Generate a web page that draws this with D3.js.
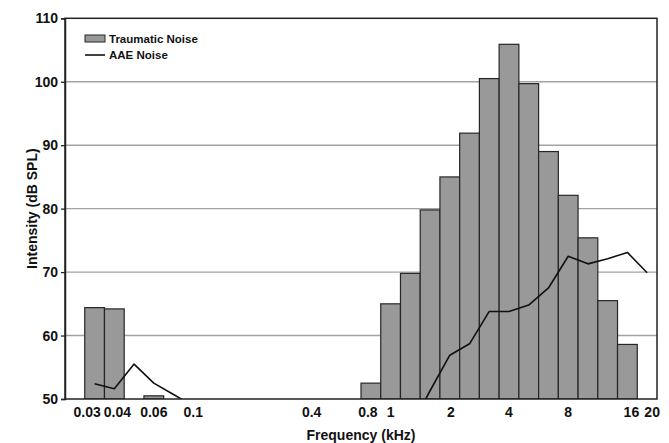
<!DOCTYPE html>
<html>
<head>
<meta charset="utf-8">
<script src="https://cdn.jsdelivr.net/npm/d3@7"></script>
<style>
  html, body { margin: 0; padding: 0; background: #fff; }
  svg { display: block; }
  text { font-family: "Liberation Sans", Arial, sans-serif; font-weight: bold; fill: #111; }
</style>
</head>
<body>
<svg id="chart" width="669" height="443"></svg>
<script>
// 1/3-octave band centre frequencies (kHz)
const bands = ["0.025","0.0315","0.04","0.05","0.063","0.08","0.1","0.125","0.16","0.2",
  "0.25","0.315","0.4","0.5","0.63","0.8","1","1.25","1.6","2",
  "2.5","3.15","4","5","6.3","8","10","12.5","16","20"];

// Traumatic noise spectrum (dB SPL), bars
const traumaticNoise = [null,64.4,64.2,null,50.5,null,null,null,null,null,
  null,null,null,null,null,52.5,65.0,69.8,79.8,85.0,
  91.9,100.5,105.9,99.7,89.0,82.1,75.4,65.5,58.6,null];

// AAE noise spectrum (dB SPL), line (values below 50 fall off the plot)
const aaeNoise = [null,52.4,51.6,55.5,52.5,50.7,48.9,null,null,null,
  null,null,null,null,null,null,null,45.5,51.3,56.9,
  58.7,63.8,63.8,64.8,67.5,72.5,71.3,72.1,73.1,69.9];

// x tick labels: band -> label
const xTickBands = ["0.0315","0.04","0.063","0.1","0.4","0.8","1","2","4","8","16","20"];
const xTickLabels = ["0.03","0.04","0.06","0.1","0.4","0.8","1","2","4","8","16","20"];
const yTicks = [50,60,70,80,90,100,110];

// label nudges (style only)
const xLabelNudge = {"0.0315": -7.5, "0.04": 3, "0.8": -3, "2": 1, "16": 4, "20": 5};

const svg = d3.select("#chart");
const M = {left: 65, right: 657, top: 18.3, bottom: 399};

const x = d3.scaleBand().domain(bands).range([M.left, M.right]).padding(0);
const y = d3.scaleLinear().domain([50,110]).range([M.bottom, M.top]);

svg.append("defs").append("clipPath").attr("id","plotclip")
  .append("rect").attr("x", M.left).attr("y", M.top)
  .attr("width", M.right - M.left).attr("height", M.bottom - M.top);

// gridlines
svg.append("g").selectAll("line")
  .data(yTicks.filter(t => t > 50 && t < 110))
  .join("line")
  .attr("x1", M.left).attr("x2", M.right)
  .attr("y1", d => y(d)).attr("y2", d => y(d))
  .attr("stroke", "#a3a3a3").attr("stroke-width", 1.4);

// bars
const barData = bands.map((b,i) => ({b, v: traumaticNoise[i]})).filter(d => d.v != null);
svg.append("g").attr("clip-path","url(#plotclip)")
  .selectAll("rect").data(barData).join("rect")
  .attr("x", d => x(d.b))
  .attr("width", x.bandwidth())
  .attr("y", d => y(d.v))
  .attr("height", d => y(50) - y(d.v))
  .attr("fill", "#999999")
  .attr("stroke", "#262626")
  .attr("stroke-width", 1.2);

// line
const lineData = bands.map((b,i) => ({b, v: aaeNoise[i]}));
const line = d3.line()
  .defined(d => d.v != null)
  .x(d => x(d.b) + x.bandwidth()/2)
  .y(d => y(d.v));
svg.append("path").attr("clip-path","url(#plotclip)")
  .datum(lineData)
  .attr("d", line)
  .attr("fill","none")
  .attr("stroke","#111")
  .attr("stroke-width",1.6)
  .attr("stroke-linejoin","round");

// plot border
svg.append("rect")
  .attr("x", M.left).attr("y", M.top)
  .attr("width", M.right - M.left).attr("height", M.bottom - M.top)
  .attr("fill","none").attr("stroke","#222").attr("stroke-width",1.5);

// y axis
const yAxis = svg.append("g").attr("transform", `translate(${M.left},0)`)
  .call(d3.axisLeft(y).tickValues(yTicks).tickSize(4).tickPadding(3).tickFormat(d3.format("d")));
yAxis.select(".domain").attr("stroke","#222").attr("stroke-width",1.5);
yAxis.selectAll(".tick line").attr("stroke","#222").attr("stroke-width",1.3);
yAxis.selectAll(".tick text").style("font-size","14px").style("font-family","'Liberation Sans', Arial, sans-serif").style("font-weight","bold").attr("fill","#111");

// x axis
const xAxis = svg.append("g").attr("transform", `translate(0,${M.bottom})`)
  .call(d3.axisBottom(x).tickValues(xTickBands).tickSize(0).tickPadding(8)
    .tickFormat(d => xTickLabels[xTickBands.indexOf(d)]));
xAxis.select(".domain").remove();
xAxis.selectAll(".tick text")
  .style("font-size","14px").style("font-family","'Liberation Sans', Arial, sans-serif").style("font-weight","bold").attr("fill","#111")
  .attr("dx", d => xLabelNudge[d] || 0);

// axis titles
svg.append("text")
  .attr("x", (M.left + M.right)/2 + 0).attr("y", 440)
  .attr("text-anchor","middle")
  .style("font-size","14px")
  .text("Frequency (kHz)");
svg.append("text")
  .attr("transform", `translate(37,${(M.top + M.bottom)/2}) rotate(-90)`)
  .attr("text-anchor","middle")
  .style("font-size","14px")
  .text("Intensity (dB SPL)");

// legend
const lg = svg.append("g");
lg.append("rect").attr("x",85).attr("y",35).attr("width",20).attr("height",7)
  .attr("fill","#999999").attr("stroke","#262626").attr("stroke-width",1);
lg.append("text").attr("x",109).attr("y",42.5).style("font-size","11.5px").text("Traumatic Noise");
lg.append("line").attr("x1",85).attr("x2",105).attr("y1",55).attr("y2",55)
  .attr("stroke","#111").attr("stroke-width",1.6);
lg.append("text").attr("x",109).attr("y",59).style("font-size","11.5px").text("AAE Noise");
</script>
</body>
</html>
